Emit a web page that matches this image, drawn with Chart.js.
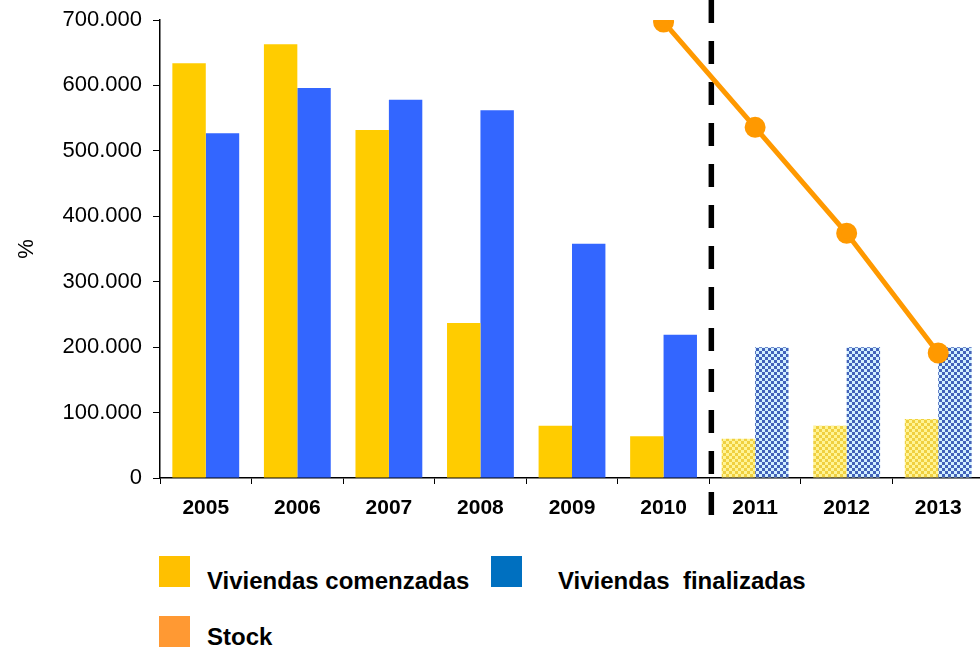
<!DOCTYPE html>
<html>
<head>
<meta charset="utf-8">
<script src="https://cdn.jsdelivr.net/npm/chart.js@4.4.1/dist/chart.umd.min.js"></script>
<style>
html, body { margin: 0; padding: 0; overflow: hidden; background: #fff; width: 980px; height: 648px; }
#viviendas { position: absolute; left: 0; top: 0; }
.key { position: absolute; width: 31px; height: 31px; }
.lbl { position: absolute; font-family: "Liberation Sans", Arial, sans-serif; font-weight: bold; font-size: 24px; color: #000; line-height: 24px; white-space: pre; }
</style>
</head>
<body>
<canvas id="viviendas" width="984" height="540"></canvas>

<div class="key" style="left:159px; top:556px; background:#FFC000"></div>
<div class="lbl" style="left:207px; top:569px">Viviendas comenzadas</div>
<div class="key" style="left:491px; top:556px; background:#0070C0"></div>
<div class="lbl" style="left:558px; top:569px">Viviendas  finalizadas</div>
<div class="key" style="left:159px; top:616px; background:#FF9933"></div>
<div class="lbl" style="left:207px; top:625px">Stock</div>

<script>
var years = ['2005', '2006', '2007', '2008', '2009', '2010', '2011', '2012', '2013'];
var comenzadas = [634000, 663000, 532000, 237000, 80000, 64000, 60000, 80000, 90000];
var finalizadas = [527000, 596000, 578000, 562000, 358000, 219000, 200000, 200000, 200000];
var stock = [null, null, null, null, null, 697000, 536000, 374000, 191000];
var yTicks = [0, 100000, 200000, 300000, 400000, 500000, 600000, 700000];
var firstForecast = 6; // 2011 onwards are estimates (hatched)

function miles(v) {
    return String(v).replace(/\B(?=(\d{3})+(?!\d))/g, '.');
}

function checker(dark, light) {
    var c = document.createElement('canvas');
    c.width = 6; c.height = 6;
    var g = c.getContext('2d');
    g.fillStyle = light;
    g.fillRect(0, 0, 6, 6);
    g.fillStyle = dark;
    g.fillRect(0, 0, 3, 3);
    g.fillRect(3, 3, 3, 3);
    return g.createPattern(c, 'repeat');
}

var yellowHatch = checker('#F0D040', '#FFF496');
var blueHatch = checker('#4262BA', '#D2F0FF');

var yellowColors = years.map(function(y, i) { return i >= firstForecast ? yellowHatch : '#FFCC00'; });
var blueColors = years.map(function(y, i) { return i >= firstForecast ? blueHatch : '#3366FF'; });

// dashed separator between real data and forecast
var separator = {
    id: 'separator',
    beforeDatasetsDraw: function(chart) {
        var x = chart.scales.x;
        var px = (x.getPixelForValue(firstForecast - 1) + x.getPixelForValue(firstForecast)) / 2 + 2;
        var ctx = chart.ctx;
        ctx.save();
        ctx.strokeStyle = '#000';
        ctx.lineWidth = 5.5;
        ctx.setLineDash([23, 18]);
        ctx.beginPath();
        ctx.moveTo(px, 0);
        ctx.lineTo(px, 524);
        ctx.stroke();
        ctx.restore();
    }
};

function noPad(s) {
    s.paddingTop = 0;
    s.paddingBottom = 0;
    s.paddingLeft = 0;
    s.paddingRight = 0;
}

var ctx = document.getElementById('viviendas').getContext('2d');

var chart = new Chart(ctx, {
    type: 'bar',
    data: {
        labels: years,
        datasets: [{
            type: 'line',
            label: 'Stock',
            data: stock,
            borderColor: '#FF9900',
            backgroundColor: '#FF9900',
            pointBackgroundColor: '#FF9900',
            pointBorderColor: '#FF9900',
            borderWidth: 5,
            pointRadius: 8,
            order: 1
        },
            {
                label: 'Viviendas comenzadas',
                data: comenzadas,
                backgroundColor: yellowColors,
                order: 2
            },
            {
                label: 'Viviendas  finalizadas',
                data: finalizadas,
                backgroundColor: blueColors,
                order: 2
            }]
    },

    options: {
        responsive: false,
        animation: false,
        layout: {
            autoPadding: false,
            padding: { top: 20, right: 0, bottom: 0, left: 0 }
        },
        plugins: {
            legend: { display: false },
            tooltip: { enabled: false }
        },
        datasets: {
            bar: { categoryPercentage: 0.73, barPercentage: 1 }
        },
        scales: {
            x: {
                grid: { display: true, drawOnChartArea: false, offset: true, tickLength: 6, color: '#000' },
                border: { display: true, color: '#000', width: 1.5 },
                ticks: {
                    color: '#000',
                    padding: 12,
                    font: { family: 'Liberation Sans', size: 21, weight: 'bold' }
                },
                afterFit: function(s) { s.height = 62; noPad(s); }
            },
            y: {
                min: 0,
                max: 700000,
                afterBuildTicks: function(s) {
                    s.ticks = yTicks.map(function(v) { return { value: v }; });
                },
                grid: { display: true, drawOnChartArea: false, tickLength: 7, color: '#000' },
                border: { display: true, color: '#000', width: 1.5 },
                ticks: {
                    color: '#000',
                    padding: 11,
                    font: { family: 'Liberation Sans', size: 22 },
                    callback: function(v) { return miles(v); }
                },
                title: {
                    display: true,
                    text: '%',
                    color: '#000',
                    padding: { top: 14, bottom: 0 },
                    font: { family: 'Liberation Sans', size: 22 }
                },
                afterFit: function(s) { s.width = 160; noPad(s); }
            }
        }
    },
    plugins: [separator]
});
</script>
</body>
</html>
